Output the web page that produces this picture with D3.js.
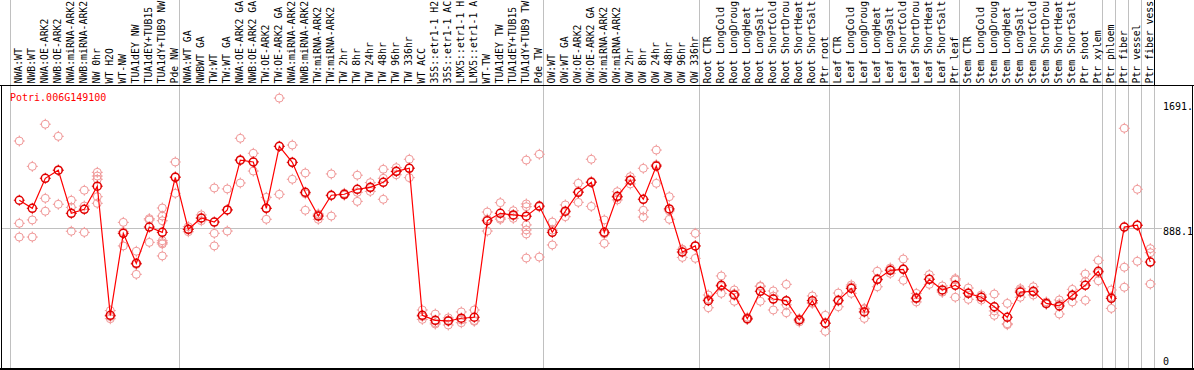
<!DOCTYPE html>
<html>
<head>
<meta charset="utf-8">
<script src="https://cdn.jsdelivr.net/npm/d3@7"></script>
<style>
  body { margin: 0; background: #fff; }
  text { font-family: "DejaVu Sans Mono", monospace; font-size: 10px; }
  text.sample { font-size: 9.8px; }
</style>
</head>
<body>
<script>
let svgWidth = 1194
let svgHeight = 370

let geneName = "Potri.006G149100"

let sampleLabels = [
    "NWA:WT", "NWB:WT", "NWA:OE-ARK2", "NWB:OE-ARK2", "NWA:miRNA-ARK2", "NWB:miRNA-ARK2",
    "NW 0hr", "WT H2O", "WT-NW", "TUA1dEY NW", "TUA1dEY+TUB15 NW", "TUA1dY+TUB9 NW", "Pde NW",
    "NWA:WT GA", "NWBWT GA", "TW:WT", "TW:WT GA", "NWA:OE-ARK2 GA", "NWB:OE-ARK2 GA",
    "TW:OE-ARK2", "TW:OE-ARK2 GA", "NWA:miRNA-ARK2 GA", "NWB:miRNA-ARK2 GA", "TW:miRNA-ARK2",
    "TW:miRNA-ARK2 GA", "TW 2hr", "TW 8hr", "TW 24hr", "TW 48hr", "TW 96hr", "TW 336hr",
    "WT ACC", "35S::etr1-1 H2O", "35S::etr1-1 ACC", "LMX5::etr1-1 H2O", "LMX5::etr1-1 ACC",
    "WT-TW", "TUA1dEY TW", "TUA1dEY+TUB15 TW", "TUA1dY+TUB9 TW", "Pde TW",
    "OW:WT", "OW:WT GA", "OW:OE-ARK2", "OW:OE-ARK2 GA", "OW:miRNA-ARK2", "OW:miRNA-ARK2 GA",
    "OW 2hr", "OW 8hr", "OW 24hr", "OW 48hr", "OW 96hr", "OW 336hr",
    "Root CTR", "Root LongCold", "Root LongDrought", "Root LongHeat", "Root LongSalt",
    "Root ShortCold", "Root ShortDrought", "Root ShortHeat", "Root ShortSalt", "Ptr root",
    "Leaf CTR", "Leaf LongCold", "Leaf LongDrought", "Leaf LongHeat", "Leaf LongSalt",
    "Leaf ShortCold", "Leaf ShortDrought", "Leaf ShortHeat", "Leaf ShortSalt", "Ptr leaf",
    "Stem CTR", "Stem LongCold", "Stem LongDrought", "Stem LongHeat", "Stem LongSalt",
    "Stem ShortCold", "Stem ShortDrought", "Stem ShortHeat", "Stem ShortSalt", "Ptr shoot",
    "Ptr xylem", "Ptr phloem", "Ptr fiber", "Ptr vessel", "Ptr fiber vessel"
]

// the label box only has room for this many characters
let labelChars = 14

// index where each sample group starts (last entry = end)
let groupStarts = [0, 13, 41, 53, 63, 73, 84, 85, 86, 87, 88]

let meanValues = [
    1058, 1008, 1194, 1244, 977, 1002, 1145, 345, 853, 667,
    892, 859, 1200, 878, 948, 923, 998, 1306, 1295, 1008,
    1392, 1293, 1107, 960, 1089, 1095, 1126, 1138, 1169, 1237,
    1256, 345, 314, 310, 327, 333, 931, 977, 967, 959,
    1022, 859, 990, 1107, 1169, 859, 1082, 1182, 1064, 1270,
    1004, 737, 775, 436, 531, 471, 324, 494, 446, 436,
    316, 436, 296, 438, 512, 366, 568, 624, 630, 452,
    568, 502, 531, 481, 457, 398, 333, 489, 494, 419,
    403, 469, 531, 618, 450, 892, 903, 675
]

let replicateValues = [
    [1425, 915, 830], [1268, 936, 830], [1529, 1070, 990], [1454, 1033, 1244],
    [1058, 1014, 866], [1120, 1022, 859], [1231, 1208, 1188, 1080, 1039], [374, 324, 337],
    [921, 775, 863], [742, 599, 660], [936, 797, 944], [1010, 960, 931, 807, 795, 787, 713],
    [1295, 1101, 1204], [894, 863, 877], [967, 931, 946], [1134, 853, 775],
    [1128, 867, 998], [1442, 1165, 1310], [1349, 1239, 1297], [1076, 940, 1008],
    [1691, 1095, 1392], [1400, 1188, 1291], [1227, 996, 1098], [973, 940, 967],
    [1221, 960, 1086], [1101, 1089, 1095], [1213, 1107, 1051], [1167, 1113, 1134],
    [1250, 1194, 1064], [1260, 1216, 1235], [1312, 1198, 1258], [378, 320, 337],
    [353, 291, 298], [285, 316, 329], [366, 299, 316], [378, 308, 313],
    [985, 867, 941], [1043, 940, 948], [993, 946, 962], [1307, 1035, 1018, 905, 874, 849, 700],
    [1343, 706, 1017], [923, 781, 873], [1029, 956, 985], [1163, 1045, 1113],
    [1312, 1020, 1175], [936, 791, 850], [1111, 1060, 1075], [1204, 1159, 1183],
    [1256, 996, 954], [1369, 1163, 1278], [1080, 940, 992], [754, 704, 753],
    [853, 698, 774], [471, 392, 445], [589, 481, 523], [502, 432, 479],
    [333, 320, 319], [527, 523, 432], [496, 378, 464], [537, 361, 410],
    [324, 304, 316], [465, 419, 424], [345, 246, 297], [483, 398, 433],
    [533, 481, 522], [388, 326, 384], [618, 522, 564], [638, 605, 629],
    [694, 562, 634], [481, 428, 447], [597, 537, 570], [491, 488, 527],
    [564, 457, 572], [514, 444, 485], [471, 440, 460], [477, 345, 372],
    [419, 287, 293], [510, 457, 500], [522, 471, 489], [428, 415, 414],
    [440, 353, 416], [506, 428, 473], [601, 438, 554], [686, 559, 609],
    [502, 388, 460], [1504, 643, 519], [1126, 680, 903], [758, 733, 539]
]

let maxValue = 1691.5
let midValue = 888.1
let tickLabels = ["0", "888.1", "1691."]
let tickValues = [0, midValue, maxValue]

let labelBottom = 85
let plotBottom = 369
let plotRight = 1192

let xScale = d3.scaleLinear()
    .domain([0, sampleLabels.length])
    .range([10.5, 1154.5])

let yScale = d3.scaleLinear()
    .domain([0, maxValue])
    .range([371, 98])

let px = function (i) { return xScale(i) + 8.8 }

let svg = d3.select("body")
    .append("svg")
    .attr("width", svgWidth)
    .attr("height", svgHeight)

// group separators
svg.selectAll("line.sep")
    .data(groupStarts)
    .enter()
    .append("line")
    .attr("x1", d => xScale(d))
    .attr("x2", d => xScale(d))
    .attr("y1", 0)
    .attr("y2", plotBottom)
    .attr("stroke", "#c0c0c0")
    .attr("stroke-width", 1)

// mid value reference line
let midY = Math.round(yScale(midValue)) + 0.5
svg.append("line")
    .attr("x1", 1).attr("x2", 1162)
    .attr("y1", midY).attr("y2", midY)
    .attr("stroke", "#c0c0c0")

// frame
svg.append("line")
    .attr("x1", 0).attr("x2", svgWidth)
    .attr("y1", labelBottom + 0.5).attr("y2", labelBottom + 0.5)
    .attr("stroke", "#000")
svg.append("line")
    .attr("x1", 0).attr("x2", svgWidth)
    .attr("y1", plotBottom).attr("y2", plotBottom)
    .attr("stroke", "#000").attr("stroke-width", 2)
svg.append("line")
    .attr("x1", 1.5).attr("x2", 1.5)
    .attr("y1", labelBottom).attr("y2", plotBottom)
    .attr("stroke", "#000")
svg.append("line")
    .attr("x1", plotRight + 0.5).attr("x2", plotRight + 0.5)
    .attr("y1", labelBottom).attr("y2", plotBottom)
    .attr("stroke", "#000")
svg.append("line")
    .attr("x1", xScale(sampleLabels.length)).attr("x2", xScale(sampleLabels.length))
    .attr("y1", 0).attr("y2", labelBottom)
    .attr("stroke", "#000")

// sample labels (rotated), cut to the room of the label box
svg.selectAll("text.sample")
    .data(sampleLabels)
    .enter()
    .append("text")
    .attr("class", "sample")
    .attr("transform", (d, i) => "translate(" + (xScale(i) + 11.5) + "," + (labelBottom - 1.5) + ") rotate(-90)")
    .attr("text-anchor", "start")
    .attr("fill", "#000")
    .text(d => d.slice(0, labelChars))

// value labels
svg.selectAll("text.tick")
    .data(tickValues)
    .enter()
    .append("text")
    .attr("x", 1163)
    .attr("y", d => Math.min(Math.max(yScale(d) + 7, 110), 365))
    .attr("fill", "#000")
    .text((d, i) => tickLabels[i])

// gene title
svg.append("text")
    .attr("x", 10)
    .attr("y", 101)
    .attr("fill", "#ff0000")
    .text(geneName)

// marker: circle with little ticks, pixel style
function marker(g, color, sw) {
    g.append("circle")
        .attr("r", 4)
        .attr("fill", "none")
        .attr("stroke", color)
        .attr("stroke-width", sw)
    g.append("path")
        .attr("d", "M0,-5.5V-3.5M0,3.5V5.5M-5.5,0H-3.5M3.5,0H5.5")
        .attr("stroke", color)
        .attr("stroke-width", 1)
}

// replicate points
let repPoints = []
replicateValues.forEach(function (arr, i) {
    arr.forEach(function (v) { repPoints.push({ i: i, v: v }) })
})

svg.append("g")
    .selectAll("g")
    .data(repPoints)
    .enter()
    .append("g")
    .attr("transform", d => "translate(" + px(d.i) + "," + yScale(d.v) + ")")
    .each(function () { marker(d3.select(this), "#f09898", 1) })

// mean line
let line = d3.line()
    .x((d, i) => px(i))
    .y(d => yScale(d))

svg.append("path")
    .datum(meanValues)
    .attr("d", line)
    .attr("fill", "none")
    .attr("stroke", "#ff0000")
    .attr("stroke-width", 1.2)

// mean points
svg.append("g")
    .selectAll("g")
    .data(meanValues)
    .enter()
    .append("g")
    .attr("transform", (d, i) => "translate(" + px(i) + "," + yScale(d) + ")")
    .each(function () { marker(d3.select(this), "#e00000", 1.5) })
</script>
</body>
</html>
